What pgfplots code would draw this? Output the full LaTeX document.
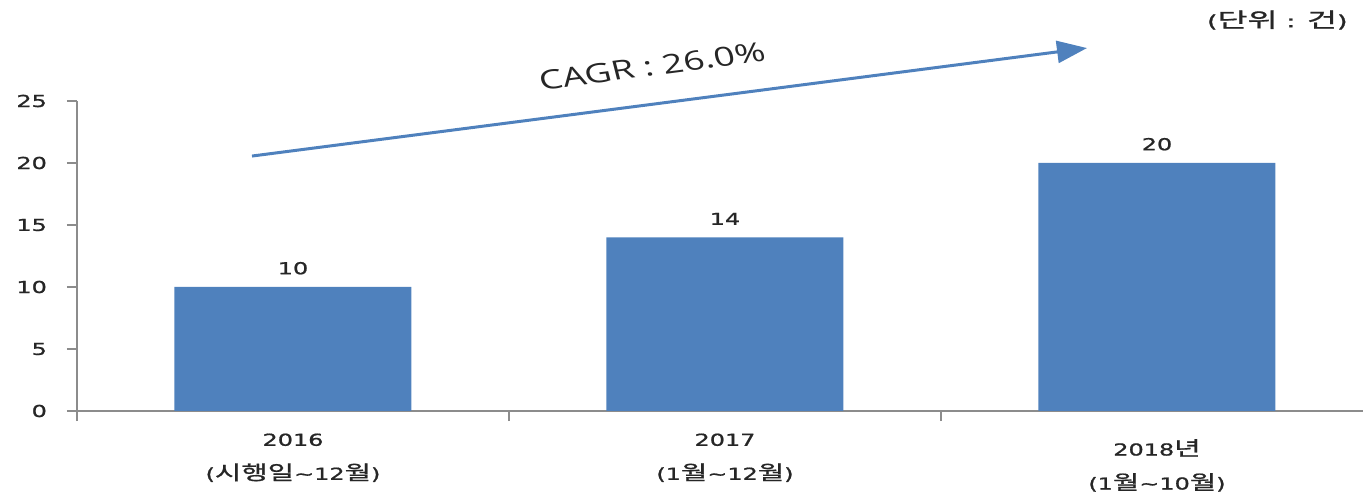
\documentclass[border=0pt]{standalone}
\usepackage{pgfplots}
\pgfplotsset{compat=1.18}
\usepackage{fontspec}
\setmainfont{DejaVu Sans}
\newfontfamily\lblfont[FakeBold=0.9]{DejaVu Sans}
\newfontfamily\kr[FakeBold=0.9, Scale=1.2]{Noto Sans CJK KR}
\newfontfamily\cagrfont{Open Sans}
\usetikzlibrary{arrows.meta}
\definecolor{barblue}{HTML}{4F81BD}
\definecolor{axisgray}{HTML}{8C8C8C}
\definecolor{labeltext}{HTML}{262626}
\newcommand\lbl{\lblfont\fontsize{16.5}{34}\selectfont}

\begin{document}
\begin{tikzpicture}
\path[use as bounding box] (-77pt,-84pt) rectangle (1286pt,411pt);
\begin{axis}[
  at={(0pt,0pt)}, anchor=south west,
  scale only axis, width=1286pt, height=310pt,
  xmin=-0.5, xmax=2.4769, ymin=0, ymax=25,
  axis x line*=bottom, axis y line*=left,
  axis line style={-, draw=axisgray, line width=1.4pt},
  clip=false,
  ybar, bar width=237pt,
  /pgf/number format/assume math mode=true,
  tick align=outside,
  major tick length=10pt,
  tick style={draw=axisgray, line width=1.4pt},
  ytick={0,5,...,25},
  yticklabel style={font=\lbl, text=labeltext, xshift=-15pt, xscale=1.45},
  xtick={-0.5,0.5,1.5}, xticklabels={},
  extra x ticks={0,1,2},
  extra x tick labels={
    {2016\\({\kr 시행일}\textasciitilde 12{\kr 월})},
    {2017\\(1{\kr 월}\textasciitilde 12{\kr 월})},
    {\rule{0pt}{22pt}2018{\kr 년}\\(1{\kr 월}\textasciitilde 10{\kr 월})}},
  extra x tick style={major tick length=0pt,
    xticklabel style={font=\lbl, text=labeltext, align=center, xscale=1.45, yshift=-19pt}},
  nodes near coords,
  nodes near coords style={font=\lbl, text=labeltext, xscale=1.45, yshift=9pt},
]
\addplot[fill=barblue, draw=none] coordinates {(0,10) (1,14) (2,20)};

% growth arrow with its label
\draw[barblue, line width=3pt, -{Triangle[length=30pt,width=22pt]}]
  (axis cs:-0.095,20.56) -- (axis cs:1.838,29.27);
\node[font=\cagrfont\fontsize{26.5}{30}\selectfont, text=labeltext, xscale=1.4, rotate=10.3]
  at (axis cs:0.831,27.8) {CAGR : 26.0\%};

% unit note
\node[anchor=east, font=\lblfont\fontsize{17}{20}\selectfont, text=labeltext, xscale=1.6, inner sep=0pt]
  at (axis cs:2.442,31.53) {({\kr 단위} : {\kr 건})};
\end{axis}
\end{tikzpicture}
\end{document}
